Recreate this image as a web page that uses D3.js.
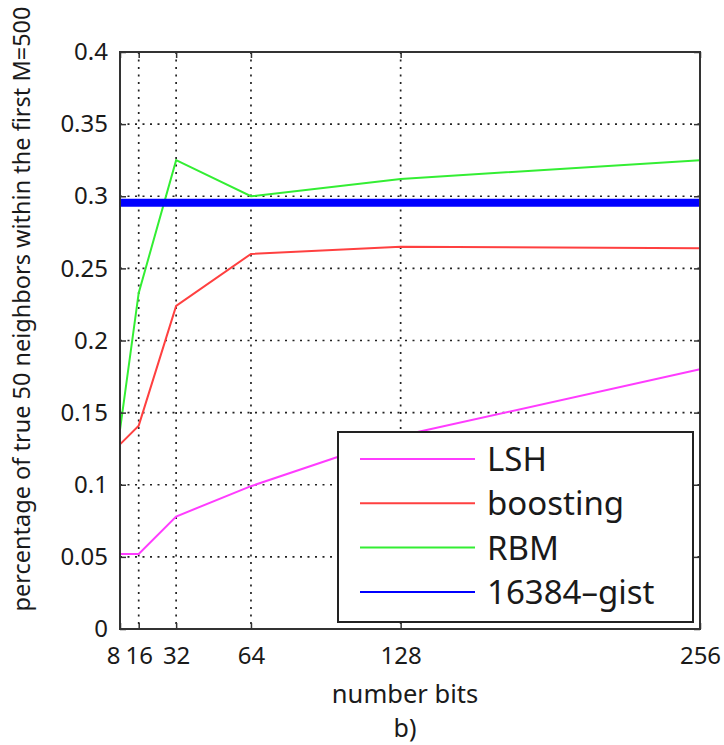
<!DOCTYPE html>
<html>
<head>
<meta charset="utf-8">
<script src="https://cdn.jsdelivr.net/npm/d3@7/dist/d3.min.js"></script>
<style>
  body { margin: 0; background: #fff; }
  svg text { font-family: "Noto Sans", "Open Sans", sans-serif; fill: #1a1a1a; }
</style>
</head>
<body>
<div id="chart"></div>
<script>
const bits = [8, 16, 32, 64, 128, 256];
const lshValues = [0.052, 0.052, 0.078, 0.099, 0.134, 0.180];
const boostingValues = [0.128, 0.141, 0.224, 0.260, 0.265, 0.264];
const rbmValues = [0.138, 0.233, 0.325, 0.300, 0.312, 0.325];
const gistValue = 0.2955;
const yTicks = [0, 0.05, 0.1, 0.15, 0.2, 0.25, 0.3, 0.35, 0.4];
const xTicks = [8, 16, 32, 64, 128, 256];
const seriesNames = ["LSH", "boosting", "RBM", "16384\u2013gist"];
const seriesColors = ["#ff3cff", "#ff4040", "#33ee33", "#0000ff"];

const width = 724;
const height = 745;
const plotLeft = 120, plotRight = 700, plotTop = 52, plotBottom = 629;

const svg = d3.select("#chart")
  .append("svg")
  .attr("width", width)
  .attr("height", height);

const x = d3.scaleLinear().domain([8, 256]).range([plotLeft, plotRight]);
const y = d3.scaleLinear().domain([0, 0.4]).range([plotBottom, plotTop]);

// grid lines (dotted, matlab style)
const grid = svg.append("g")
  .attr("stroke", "#222")
  .attr("stroke-width", 1.7)
  .attr("stroke-dasharray", "2,5.5");

grid.selectAll("line.h")
  .data(yTicks.filter(function (d) { return d > 0 && d < 0.4; }))
  .enter()
  .append("line")
  .attr("x1", plotLeft).attr("x2", plotRight)
  .attr("y1", function (d) { return y(d); })
  .attr("y2", function (d) { return y(d); });

grid.selectAll("line.v")
  .data(xTicks.filter(function (d) { return d > 8 && d < 256; }))
  .enter()
  .append("line")
  .attr("y1", plotTop).attr("y2", plotBottom)
  .attr("x1", function (d) { return x(d); })
  .attr("x2", function (d) { return x(d); });

// data lines
const line = d3.line()
  .x(function (d) { return x(d[0]); })
  .y(function (d) { return y(d[1]); });

const seriesData = [lshValues, boostingValues, rbmValues];

svg.append("g")
  .selectAll("path")
  .data(seriesData)
  .enter()
  .append("path")
  .attr("d", function (vals) {
    return line(bits.map(function (b, i) { return [b, vals[i]]; }));
  })
  .attr("fill", "none")
  .attr("stroke", function (d, i) { return seriesColors[i]; })
  .attr("stroke-width", 2);

svg.append("path")
  .attr("d", line([[8, gistValue], [256, gistValue]]))
  .attr("fill", "none")
  .attr("stroke", seriesColors[3])
  .attr("stroke-width", 8);

// axes with inward ticks
const axisLeft = svg.append("g")
  .attr("transform", "translate(" + plotLeft + ",0)")
  .call(d3.axisLeft(y).tickValues(yTicks).tickSize(-6).tickPadding(12)
    .tickFormat(function (d) { return String(+d.toFixed(2)); }));

const axisBottom = svg.append("g")
  .attr("transform", "translate(0," + plotBottom + ")")
  .call(d3.axisBottom(x).tickValues(xTicks).tickSize(-6).tickPadding(18)
    .tickFormat(d3.format("d")));

const axisRight = svg.append("g")
  .attr("transform", "translate(" + plotRight + ",0)")
  .call(d3.axisRight(y).tickValues(yTicks).tickSize(-6).tickFormat(""));

const axisTop = svg.append("g")
  .attr("transform", "translate(0," + plotTop + ")")
  .call(d3.axisTop(x).tickValues(xTicks).tickSize(-6).tickFormat(""));

[axisLeft, axisBottom, axisRight, axisTop].forEach(function (g) {
  g.select(".domain").remove();
  g.selectAll(".tick line").attr("stroke", "#333").attr("stroke-width", 1.5);
  g.selectAll("text").attr("font-size", "24px").attr("fill", "#1a1a1a");
});

// first x label nudged left so "8" and "16" do not collide
axisBottom.selectAll(".tick text")
  .attr("dx", function (d) { return d === 8 ? -7 : 0; });

svg.append("rect")
  .attr("x", plotLeft).attr("y", plotTop)
  .attr("width", plotRight - plotLeft).attr("height", plotBottom - plotTop)
  .attr("fill", "none")
  .attr("stroke", "#333")
  .attr("stroke-width", 2);

// axis labels
svg.append("text")
  .attr("x", 405)
  .attr("y", 703)
  .attr("text-anchor", "middle")
  .attr("font-size", "25.5px")
  .text("number bits");

svg.append("text")
  .attr("x", 405)
  .attr("y", 737)
  .attr("text-anchor", "middle")
  .attr("font-size", "25px")
  .text("b)");

svg.append("text")
  .attr("transform", "translate(30,309) rotate(-90)")
  .attr("text-anchor", "middle")
  .attr("font-size", "23.5px")
  .text("percentage of true 50 neighbors within the first M=500");

// legend
const legend = svg.append("g");
legend.append("rect")
  .attr("x", 338).attr("y", 432)
  .attr("width", 355).attr("height", 190)
  .attr("fill", "#fff")
  .attr("stroke", "#222")
  .attr("stroke-width", 2);

const rows = legend.selectAll("g.row")
  .data(seriesNames)
  .enter()
  .append("g")
  .attr("transform", function (d, i) { return "translate(0," + (459 + i * 44.3) + ")"; });

rows.append("line")
  .attr("x1", 360).attr("x2", 475)
  .attr("y1", 0).attr("y2", 0)
  .attr("stroke", function (d, i) { return seriesColors[i]; })
  .attr("stroke-width", 2);

rows.append("text")
  .attr("x", 487)
  .attr("y", 12)
  .attr("font-size", "33px")
  .text(function (d) { return d; });
</script>
</body>
</html>
